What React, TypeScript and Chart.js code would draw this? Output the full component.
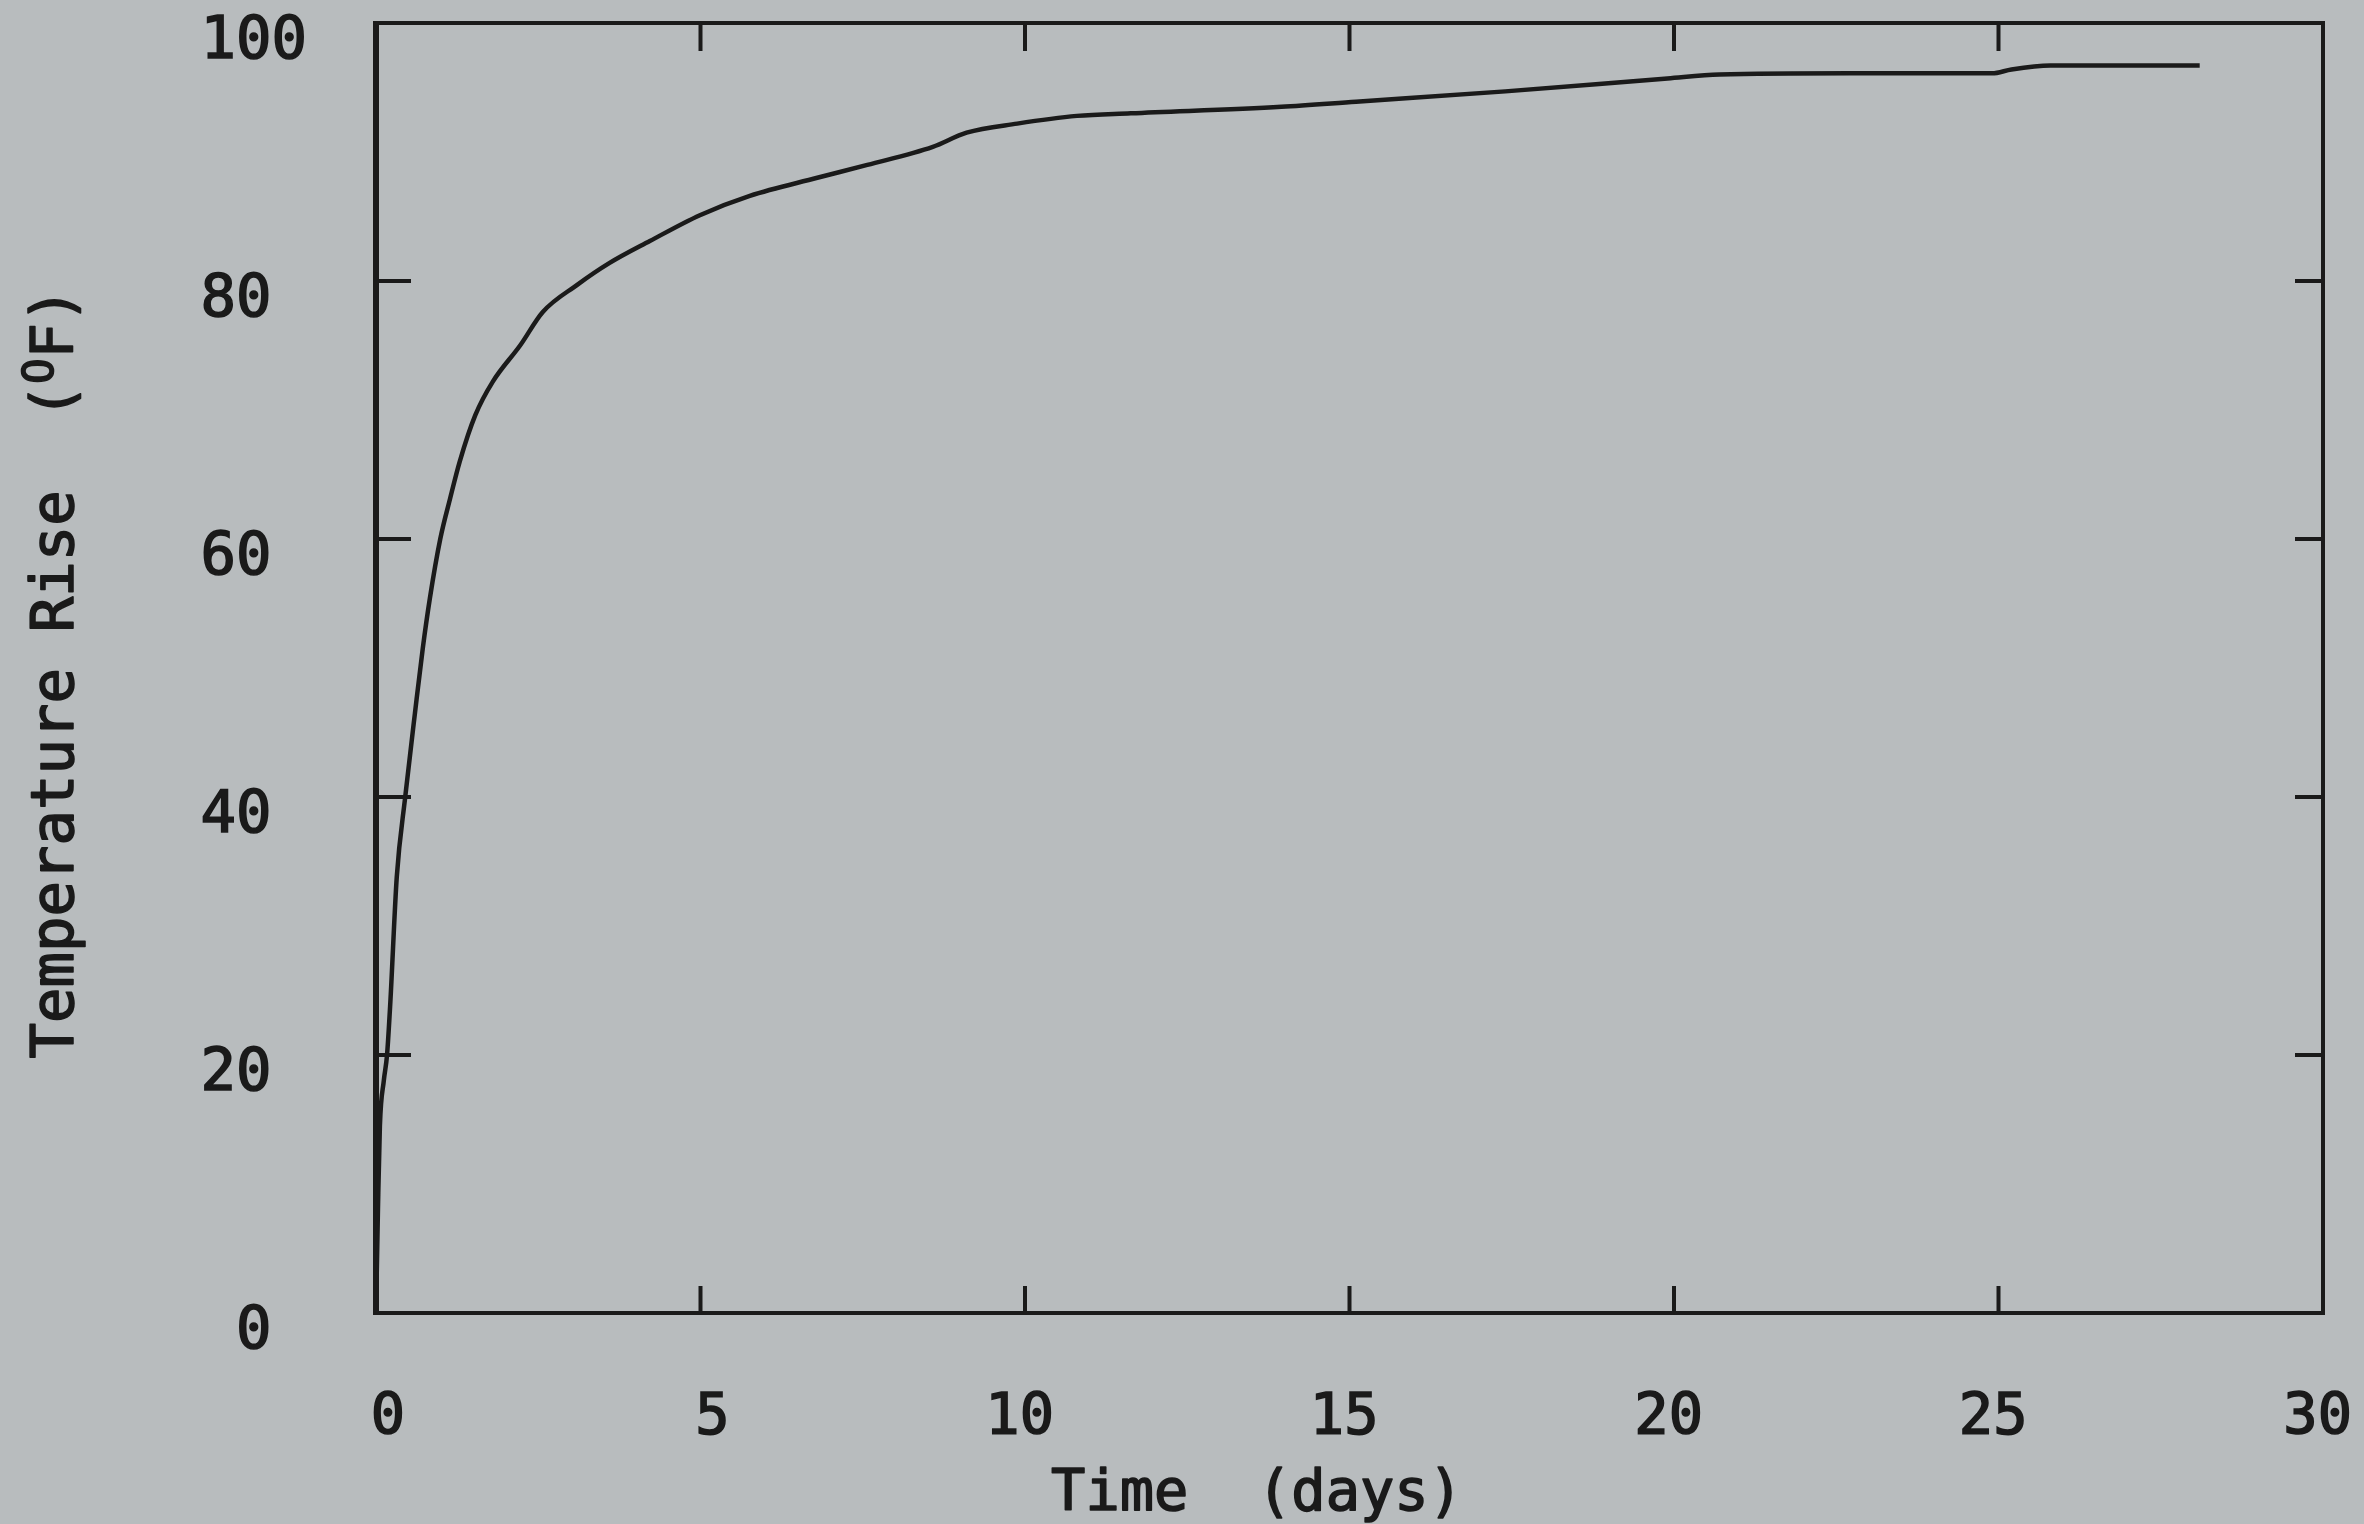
import { useEffect, useRef } from 'react';
import { Chart, registerables } from 'chart.js';

Chart.register(...registerables);

// ---- data ----
const timeDays = [0, 0.03, 0.06, 0.12, 0.17, 0.22, 0.32, 0.45, 0.6, 0.72, 0.83, 0.99, 1.14, 1.29, 1.53, 1.8, 2.22, 2.57, 3.1, 3.6, 4.22, 4.99, 5.76, 6.8, 7.57, 8.58, 9.1, 9.88, 10.8, 11.63, 13.95, 15.1, 17.4, 19.9, 20.7, 22.7, 24.9, 25.2, 25.8, 28.1];
const tempRise = [0, 8, 14.5, 18, 20, 24, 33.8, 40, 46.5, 51.5, 55.4, 60, 63.1, 66, 69.6, 72.2, 75, 77.6, 79.7, 81.4, 83.1, 85.1, 86.6, 88.0, 89, 90.4, 91.5, 92.2, 92.8, 93.0, 93.5, 93.9, 94.7, 95.7, 96, 96.1, 96.1, 96.4, 96.7, 96.7];
const xTickLabels = ['0', '5', '10', '15', '20', '25', '30'];
const yTickLabels = ['0', '20', '40', '60', '80', '100'];
const xTitle = 'Time  (days)';
const yTitleMain = 'Temperature Rise  (';
const yTitleSup = 'O';
const yTitleEnd = 'F)';

const BG = '#b8bcbe';
const INK = '#1a1a1a';
const FONT = '"DejaVu Sans Mono", "Liberation Mono", monospace';
const TEXT_STROKE = 1.6;

const paperPlugin = {
  id: 'paper',
  beforeDraw(chart: any) {
    const { ctx, width, height } = chart;
    ctx.save();
    ctx.fillStyle = BG;
    ctx.fillRect(0, 0, width, height);
    ctx.restore();
  },
};

const framePlugin = {
  id: 'frame',
  afterDatasetsDraw(chart: any) {
    const { ctx, chartArea, scales } = chart;
    const { left, top, right, bottom } = chartArea;
    const xs = scales.x;
    const ys = scales.y;
    ctx.save();
    ctx.strokeStyle = INK;
    ctx.lineWidth = 4;
    ctx.lineCap = 'butt';
    ctx.strokeRect(left, top, right - left, bottom - top);
    ctx.lineWidth = 6;
    ctx.beginPath();
    ctx.moveTo(left, top - 2);
    ctx.lineTo(left, bottom + 2);
    ctx.stroke();
    ctx.lineWidth = 4;
    const seg = (x1: number, y1: number, x2: number, y2: number) => {
      ctx.beginPath();
      ctx.moveTo(x1, y1);
      ctx.lineTo(x2, y2);
      ctx.stroke();
    };
    xs.ticks.forEach((t: any) => {
      if (t.value <= xs.min || t.value >= xs.max) return;
      const px = xs.getPixelForValue(t.value);
      seg(px, bottom, px, bottom - 27);
      seg(px, top, px, top + 28);
    });
    ys.ticks.forEach((t: any) => {
      if (t.value <= ys.min || t.value >= ys.max) return;
      const py = ys.getPixelForValue(t.value);
      seg(left, py, left + 35, py);
      seg(right, py, right - 28, py);
    });
    ctx.restore();
  },
};

const titlePlugin = {
  id: 'titles',
  afterDraw(chart: any) {
    const { ctx } = chart;
    ctx.save();
    ctx.fillStyle = INK;
    ctx.strokeStyle = INK;
    ctx.lineWidth = TEXT_STROKE;
    ctx.lineJoin = 'round';
    const put = (s: string, x: number, y: number) => {
      ctx.fillText(s, x, y);
      ctx.strokeText(s, x, y);
    };
    ctx.font = `57px ${FONT}`;
    ctx.textAlign = 'center';
    ctx.textBaseline = 'alphabetic';
    put(xTitle, 1257, 1510);

    // vertical title
    ctx.translate(73, 673);
    ctx.rotate(-Math.PI / 2);
    ctx.font = `59px ${FONT}`;
    const wMain = ctx.measureText(yTitleMain).width;
    const wEnd = ctx.measureText(yTitleEnd).width;
    ctx.font = `42px ${FONT}`;
    const wSup = ctx.measureText(yTitleSup).width;
    const total = wMain + wSup + wEnd;
    let x0 = -total / 2;
    ctx.textAlign = 'left';
    ctx.font = `59px ${FONT}`;
    put(yTitleMain, x0, 0);
    x0 += wMain;
    ctx.font = `42px ${FONT}`;
    put(yTitleSup, x0, -20);
    x0 += wSup;
    ctx.font = `59px ${FONT}`;
    put(yTitleEnd, x0, 0);
    ctx.restore();
  },
};

export default function App() {
  const ref = useRef<HTMLCanvasElement | null>(null);

  useEffect(() => {
    if (!ref.current) return;
    const points = timeDays.map((t, i) => ({ x: t, y: tempRise[i] }));
    const chart = new Chart(ref.current, {
      type: 'line',
      data: {
        datasets: [
          {
            data: points,
            borderColor: INK,
            borderWidth: 4.5,
            pointRadius: 0,
            fill: false,
            cubicInterpolationMode: 'monotone',
          },
        ],
      },
      options: {
        animation: false,
        responsive: false,
        maintainAspectRatio: false,
        layout: { padding: { left: 0, top: 23, right: 41, bottom: 0 } },
        plugins: {
          legend: { display: false },
          tooltip: { enabled: false },
          title: { display: false },
        },
        scales: {
          x: {
            type: 'linear',
            min: 0,
            max: 30,
            grid: { display: false, drawTicks: false },
            border: { display: false },
            ticks: {
              stepSize: 5,
              align: 'end',
              labelOffset: 29,
              padding: 72,
              color: INK,
              textStrokeColor: INK,
              textStrokeWidth: TEXT_STROKE,
              font: { family: FONT, size: 57, lineHeight: 1.2 },
              callback: (_v: any, i: number) => xTickLabels[i],
            },
            afterFit: (s: any) => {
              s.height = 211;
              s.paddingLeft = 0;
              s.paddingRight = 0;
              s.paddingTop = 0;
              s.paddingBottom = 0;
            },
          },
          y: {
            type: 'linear',
            min: 0,
            max: 100,
            grid: { display: false, drawTicks: false },
            border: { display: false },
            ticks: {
              stepSize: 20,
              labelOffset: 20,
              padding: 69,
              color: INK,
              textStrokeColor: INK,
              textStrokeWidth: TEXT_STROKE,
              font: { family: FONT, size: 59, lineHeight: 1.2 },
              callback: (_v: any, i: number) =>
                yTickLabels[i] === '100' ? yTickLabels[i] : yTickLabels[i] + ' ',
            },
            afterFit: (s: any) => {
              s.width = 376;
              s.paddingLeft = 0;
              s.paddingRight = 0;
              s.paddingTop = 0;
              s.paddingBottom = 0;
            },
          },
        },
      },
      plugins: [paperPlugin, framePlugin, titlePlugin],
    } as any);
    return () => chart.destroy();
  }, []);

  return (
    <div style={{ position: 'fixed', left: 0, top: 0, width: 2364, height: 1524, background: BG }}>
      <canvas ref={ref} width={2364} height={1524} style={{ display: 'block', width: 2364, height: 1524 }} />
    </div>
  );
}
